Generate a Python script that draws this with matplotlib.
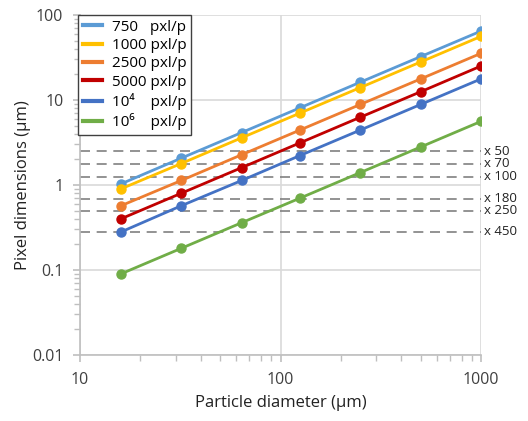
import matplotlib
matplotlib.use("Agg")
import matplotlib.pyplot as plt
from matplotlib.ticker import LogLocator, NullFormatter, FixedLocator, FixedFormatter

plt.rcParams['font.family'] = ['Open Sans', 'DejaVu Sans']

diameter = [16, 32, 64, 125, 250, 500, 1000]
series_labels = ["750   pxl/p", "1000 pxl/p", "2500 pxl/p", "5000 pxl/p",
                 "10⁴    pxl/p", "10⁶    pxl/p"]
px_750 = [1.03, 2.07, 4.14, 8.09, 16.2, 32.4, 64.7]
px_1000 = [0.90, 1.79, 3.59, 7.01, 14.0, 28.0, 56.0]
px_2500 = [0.57, 1.13, 2.27, 4.43, 8.86, 17.7, 35.4]
px_5000 = [0.40, 0.80, 1.60, 3.13, 6.27, 12.5, 25.1]
px_1e4 = [0.28, 0.57, 1.13, 2.22, 4.43, 8.86, 17.7]
px_1e6 = [0.09, 0.18, 0.36, 0.70, 1.40, 2.80, 5.60]
series = [px_750, px_1000, px_2500, px_5000, px_1e4, px_1e6]
colors = ["#5B9BD5", "#FFC000", "#ED7D31", "#C00000", "#4472C4", "#70AD47"]

mag_labels = ["x 50", "x 70", "x 100", "x 180", "x 250", "x 450"]
mag_levels = [2.5, 1.79, 1.25, 0.69, 0.5, 0.28]

fig = plt.figure(figsize=(5.28, 4.21), dpi=100)
ax = fig.add_axes([80/528, 1-355/421, 401/528, 340/421])
ax.set_xscale('log')
ax.set_yscale('log')
ax.set_xlim(10, 1000)
ax.set_ylim(0.01, 100)

for y in mag_levels:
    ax.axhline(y, color="#808080", lw=1.2, ls=(0, (6, 4)), zorder=1)

for vals, lab, c in zip(series, series_labels, colors):
    ax.plot(diameter, vals, color=c, lw=2.0, marker='o', ms=6.5, label=lab, zorder=3)

for y, t in zip(mag_levels, mag_labels):
    ax.text(1.008, y, t, transform=ax.get_yaxis_transform(), fontsize=9.5,
            va='center', ha='left', color='#222222', clip_on=False)

ax.grid(True, which='major', color='#D9D9D9', lw=1.2, zorder=0)
ax.set_axisbelow(True)
for s in ['top', 'right']:
    ax.spines[s].set_visible(False)
for s in ['left', 'bottom']:
    ax.spines[s].set_color('#BFBFBF')
    ax.spines[s].set_linewidth(1.2)

ax.xaxis.set_major_locator(FixedLocator([10, 100, 1000]))
ax.xaxis.set_major_formatter(FixedFormatter(["10", "100", "1000"]))
ax.yaxis.set_major_locator(FixedLocator([0.01, 0.1, 1, 10, 100]))
ax.yaxis.set_major_formatter(FixedFormatter(["0.01", "0.1", "1", "10", "100"]))
ax.xaxis.set_minor_locator(LogLocator(base=10, subs=range(2, 10)))
ax.yaxis.set_minor_locator(LogLocator(base=10, subs=range(2, 10)))
ax.xaxis.set_minor_formatter(NullFormatter())
ax.yaxis.set_minor_formatter(NullFormatter())
ax.tick_params(which='major', direction='out', length=5, color='#BFBFBF', width=1.2,
               labelsize=11.5, labelcolor='#404040', pad=7)
ax.tick_params(which='minor', direction='out', length=4, color='#BFBFBF', width=1)

ax.set_xlabel("Particle diameter (µm)", fontsize=12, color='#222222', labelpad=5)
ax.set_ylabel("Pixel dimensions (µm)", fontsize=12, color='#222222')
ax.yaxis.set_label_coords(-0.122, 0.5)

leg = ax.legend(loc='upper left', bbox_to_anchor=(-0.005, 1.0), fontsize=11,
                handlelength=1.3, handletextpad=0.6, labelspacing=0.22,
                borderpad=0.3, borderaxespad=0.0, fancybox=False,
                edgecolor='#404040', framealpha=1)
leg.get_frame().set_linewidth(1.0)
for h in leg.get_lines():
    h.set_marker('')
    h.set_linewidth(3)

fig.savefig("out.png", dpi=100)
